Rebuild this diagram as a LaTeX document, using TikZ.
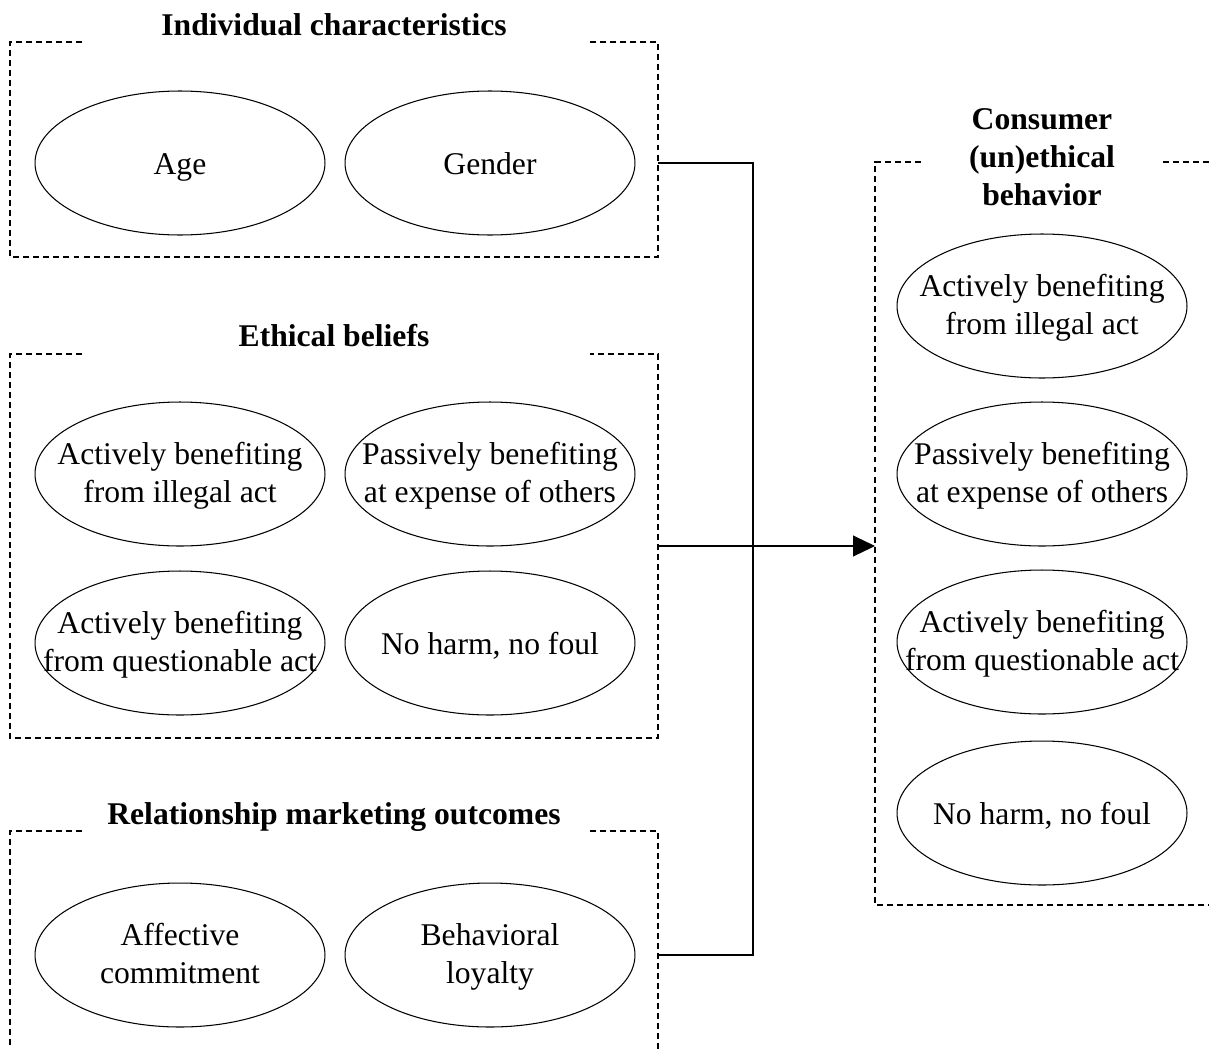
\documentclass[tikz,border=0pt]{standalone}
\usepackage{fontspec}
\setmainfont{Liberation Serif}
\usetikzlibrary{shapes.geometric,arrows.meta}

\tikzset{
  oval/.style={ellipse, draw, line width=0.6pt, inner sep=0pt,
    minimum width=5.8cm, minimum height=2.88cm},
  ovaltext/.style={align=center, font=\fontsize{18}{21.6}\selectfont, yshift=-2.5pt,
    execute at begin node=\strut, execute at end node=\strut},
  heading/.style={align=center, font=\fontsize{18}{21.6}\selectfont\bfseries},
  groupbox/.style={line width=0.6pt, dash pattern=on 3.4pt off 2.3pt},
  link/.style={line width=0.6pt},
}

\begin{document}
\begin{tikzpicture}[x=0.02cm, y=-0.02cm]
    \useasboundingbox (0,0) rectangle (1209,1048);

    % individual characteristics
    \node[heading] (indtitle) at (334,25) {Individual characteristics};
    \draw[groupbox] (82,42) -- (10,42) -- (10,257) -- (658,257) -- (658,42) -- (590,42);
    \node[oval, label={[ovaltext]center:Age}] (age) at (180,163) {};
    \node[oval, label={[ovaltext]center:Gender}] (gender) at (490,163) {};

    % ethical beliefs
    \node[heading] (ethtitle) at (334,336) {Ethical beliefs};
    \draw[groupbox] (82,354) -- (10,354) -- (10,738) -- (658,738) -- (658,354) -- (590,354);
    \node[oval, label={[ovaltext]center:{Actively benefiting\\from illegal act}}] (ethillegal) at (180,474) {};
    \node[oval, label={[ovaltext]center:{Passively benefiting\\at expense of others}}] (ethpassive) at (490,474) {};
    \node[oval, label={[ovaltext]center:{Actively benefiting\\from questionable act}}] (ethquest) at (180,643) {};
    \node[oval, label={[ovaltext]center:{No harm, no foul}}] (ethnoharm) at (490,643) {};

    % relationship marketing outcomes
    \node[heading] (reltitle) at (334,817) {Relationship marketing outcomes};
    \draw[groupbox] (82,831) -- (10,831) -- (10,1060);
    \draw[groupbox] (590,831) -- (658,831) -- (658,1060);
    \node[oval, label={[ovaltext]center:{Affective\\commitment}}] (affective) at (180,955) {};
    \node[oval, label={[ovaltext]center:{Behavioral\\loyalty}}] (loyalty) at (490,955) {};

    % consumer (un)ethical behavior
    \node[heading] (contitle) at (1042,157) {Consumer\\(un)ethical\\behavior};
    \draw[groupbox] (921,162) -- (875,162) -- (875,905) -- (1220,905);
    \draw[groupbox] (1163,162) -- (1220,162);
    \node[oval, label={[ovaltext]center:{Actively benefiting\\from illegal act}}] (conillegal) at (1042,306) {};
    \node[oval, label={[ovaltext]center:{Passively benefiting\\at expense of others}}] (conpassive) at (1042,474) {};
    \node[oval, label={[ovaltext]center:{Actively benefiting\\from questionable act}}] (conquest) at (1042,642) {};
    \node[oval, label={[ovaltext]center:{No harm, no foul}}] (connoharm) at (1042,813) {};

    % connectors
    \coordinate (indout) at (658,163);
    \coordinate (ethout) at (658,546);
    \coordinate (relout) at (658,955);
    \coordinate (conin) at (875,546);
    \draw[link] (indout) -- (753,163) -- (753,955) -- (relout);
    \draw[link, -{Triangle[length=0.44cm, width=0.42cm]}] (ethout) -- (conin);
\end{tikzpicture}
\end{document}
